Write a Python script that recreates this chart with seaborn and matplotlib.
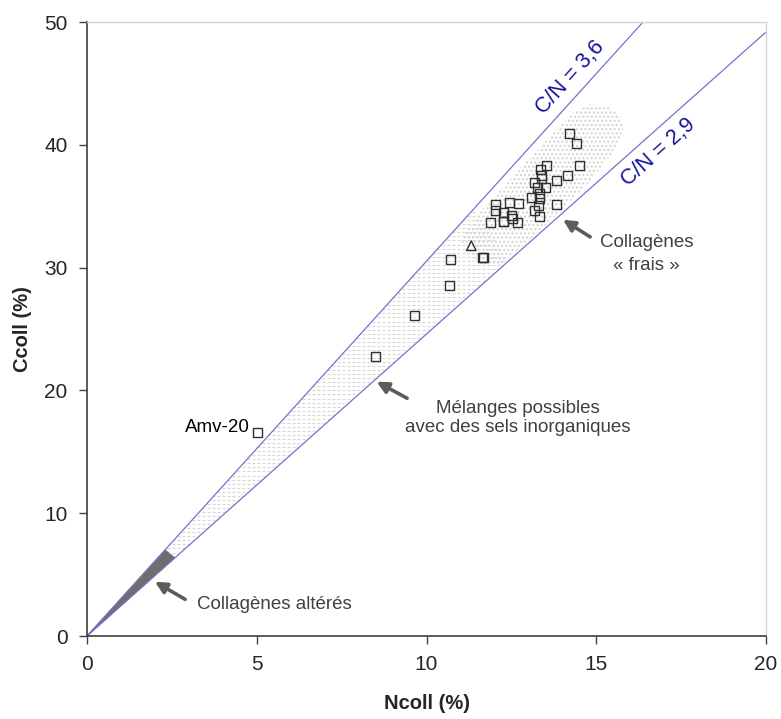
import numpy as np
import pandas as pd
import seaborn as sns
import matplotlib.pyplot as plt
from matplotlib.patches import Polygon

# Données (Ncoll %, Ccoll %)
n_carres = [14.20, 14.43, 14.52, 14.16, 13.84, 13.54, 13.35, 13.39, 13.18, 13.27,
            13.51, 13.34, 13.08, 13.34, 13.30, 13.17, 13.33, 13.83, 12.02, 12.44,
            12.71, 12.04, 12.26, 12.50, 12.53, 11.89, 12.28, 12.68, 12.26, 13.40,
            10.71, 11.66, 11.68, 10.69, 9.66, 8.51, 5.03]
c_carres = [40.96, 40.09, 38.33, 37.46, 37.11, 38.30, 38.00, 37.24, 36.97, 36.51,
            36.51, 36.05, 35.73, 35.59, 35.02, 34.69, 34.15, 35.16, 35.16, 35.32,
            35.21, 34.67, 34.45, 34.24, 34.02, 33.66, 33.74, 33.71, 33.74, 37.50,
            30.68, 30.86, 30.84, 28.58, 26.14, 22.80, 16.61]
n_triangle = [11.32]
c_triangle = [31.78]

cn_labels = ['C/N = 3,6', 'C/N = 2,9']
cn_ratios = [3.6, 2.9]
facteur = 0.848
pentes = [r * facteur for r in cn_ratios]

# Contour de la zone « collagènes frais »
zone_frais_n = [11.0, 11.6, 12.5, 13.5, 14.3, 14.8, 15.3, 15.7, 15.8, 15.5, 14.8, 13.8, 12.9, 12.2, 11.6]
zone_frais_c = [32.2, 34.6, 37.3, 40.3, 42.6, 43.3, 43.2, 42.4, 41.2, 39.4, 37.0, 34.2, 31.9, 30.3, 30.2]

n_alteres_max = [2.30, 2.59]     # limite des collagènes altérés (haut, bas)
n_melanges_max = [11.4, 12.4]    # limite de la zone des mélanges (haut, bas)

sns.set_style('ticks')
plt.rcParams['font.family'] = ['Liberation Sans', 'DejaVu Sans']

fig = plt.figure(figsize=(7.81, 7.19), dpi=100)
ax = fig.add_axes([0.1114, 0.1154, 0.8694, 0.854])
ax.set_xlim(0, 20)
ax.set_ylim(0, 50)

s_haut, s_bas = pentes

# zone des mélanges (tirets horizontaux)
poly_mel = Polygon([(n_alteres_max[0], n_alteres_max[0] * s_haut),
                    (n_melanges_max[0], n_melanges_max[0] * s_haut),
                    (n_melanges_max[1], n_melanges_max[1] * s_bas),
                    (n_alteres_max[1], n_alteres_max[1] * s_bas)],
                   closed=True, facecolor='none', edgecolor='none')
ax.add_patch(poly_mel)
tirets = ax.hlines(np.arange(0.2, 36, 0.33), 0, 20, colors='#d6d6d6', lw=0.8,
                   linestyles=[(0, (2.7, 1.8))])
tirets.set_clip_path(poly_mel)

# zone des collagènes frais (pointillés)
ax.add_patch(Polygon(list(zip(zone_frais_n, zone_frais_c)), closed=True,
                     facecolor='white', edgecolor='#d2d2d2', lw=0, hatch='....'))

# collagènes altérés
ax.add_patch(Polygon([(0, 0), (n_alteres_max[0], n_alteres_max[0] * s_haut),
                      (n_alteres_max[1], n_alteres_max[1] * s_bas)],
                     closed=True, facecolor='#6e6e6e', edgecolor='#6e6e6e', lw=0.5))

# droites C/N
for p in pentes:
    sns.lineplot(x=[0, 20], y=[0, 20 * p], color='#7474c8', lw=0.9, ax=ax)

# points
df_sq = pd.DataFrame({'N': n_carres, 'C': c_carres})
df_tr = pd.DataFrame({'N': n_triangle, 'C': c_triangle})
sns.scatterplot(data=df_sq, x='N', y='C', marker='s', s=42, facecolor='none',
                edgecolor='#303030', linewidth=1.0, ax=ax, zorder=5)
sns.scatterplot(data=df_tr, x='N', y='C', marker='^', s=48, facecolor='none',
                edgecolor='#303030', linewidth=1.0, ax=ax, zorder=5)

# étiquettes des droites
def angle(p):
    return np.degrees(np.arctan(p * (614 / 50) / (679 / 20)))

ax.annotate(cn_labels[0], xy=(14.59, 14.59 * s_haut), xytext=(-8.6, 8.6),
            textcoords='offset points', rotation=angle(s_haut), rotation_mode='anchor',
            ha='center', va='center', fontsize=15.5, color='#14149a')
ax.annotate(cn_labels[1], xy=(16.47, 16.47 * s_bas), xytext=(8.6, -10),
            textcoords='offset points', rotation=angle(s_bas), rotation_mode='anchor',
            ha='center', va='center', fontsize=15.5, color='#14149a')

# annotations avec flèches
fleche = dict(arrowstyle='-|>', lw=2.6, color='#5c5c5c', mutation_scale=17,
              shrinkA=0, shrinkB=0)
ax.annotate('', xy=(14.02, 33.9), xytext=(14.82, 32.5), arrowprops=fleche)
ax.annotate('', xy=(8.53, 20.71), xytext=(9.43, 19.36), arrowprops=fleche)
ax.annotate('', xy=(2.0, 4.42), xytext=(2.89, 2.99), arrowprops=fleche)

ax.text(16.49, 31.1, 'Collagènes\n« frais »', ha='center', va='center',
        multialignment='center', fontsize=13.5, color='#404040', linespacing=1.45)
ax.text(12.69, 17.75, 'Mélanges possibles\navec des sels inorganiques', ha='center',
        va='center', multialignment='center', fontsize=13.5, color='#404040',
        linespacing=1.2)
ax.text(3.24, 2.6, 'Collagènes altérés', ha='left', va='center', fontsize=13.5,
        color='#404040')
ax.text(2.89, 16.94, 'Amv-20', ha='left', va='center', fontsize=13.5, color='black')

# axes
ax.set_xticks([0, 5, 10, 15, 20])
ax.set_yticks([0, 10, 20, 30, 40, 50])
ax.tick_params(axis='both', labelsize=15, length=6, width=1, color='#404040',
               pad=8, direction='out')
for s in ['left', 'bottom']:
    ax.spines[s].set_color('#404040')
    ax.spines[s].set_linewidth(1.2)
for s in ['top', 'right']:
    ax.spines[s].set_color('#d6d6d6')
    ax.spines[s].set_linewidth(1.0)

ax.set_xlabel('Ncoll (%)', fontsize=14.5, fontweight='bold')
ax.set_ylabel('Ccoll (%)', fontsize=14.5, fontweight='bold')
ax.xaxis.set_label_coords(0.5, -0.094)
ax.yaxis.set_label_coords(-0.081, 0.5)

fig.savefig('out.png', dpi=100)
